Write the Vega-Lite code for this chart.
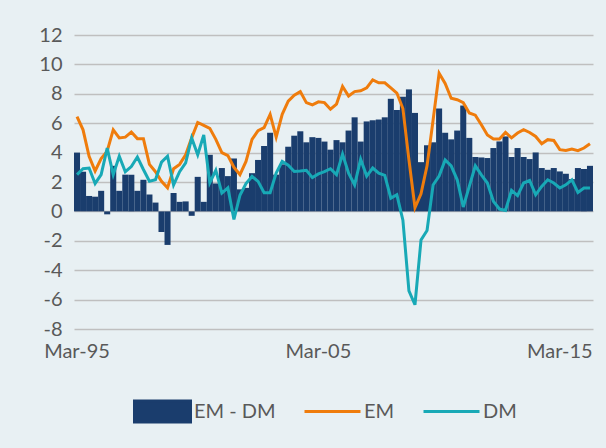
{
  "$schema": "https://vega.github.io/schema/vega-lite/v6.json",
  "width": 519,
  "height": 294,
  "autosize": {"type": "none"},
  "padding": {"left": 74, "top": 35, "right": 13, "bottom": 119},
  "background": "#e8f0f3",
  "config": {
    "view": {"stroke": null},
    "font": "Lato",
    "legend": {
      "title": null, "orient": "none", "legendX": 59, "legendY": 347,
      "direction": "horizontal", "symbolSize": 3136,
      "labelFontSize": 20, "labelColor": "#595959", "labelOffset": 2, "columnPadding": 22
    },
    "axisY": {
      "values": [-8, -6, -4, -2, 0, 2, 4, 6, 8, 10, 12],
      "tickCount": 11,
      "labelExpr": "toString(datum.value)",
      "labelOverlap": false,
      "title": null, "ticks": false, "domain": false,
      "gridColor": "#bfbfbf", "gridWidth": 1.5,
      "labelFontSize": 20, "labelColor": "#595959", "labelPadding": 12
    }
  },
  "data": {"values": [
    {"q":"Mar-95","diff":4.0,"EM":6.45,"DM":2.5},
    {"q":"Jun-95","diff":2.7,"EM":5.55,"DM":2.9},
    {"q":"Sep-95","diff":1.05,"EM":3.75,"DM":2.95},
    {"q":"Dec-95","diff":1.0,"EM":2.75,"DM":1.9},
    {"q":"Mar-96","diff":1.4,"EM":3.6,"DM":2.5},
    {"q":"Jun-96","diff":-0.2,"EM":4.1,"DM":4.3},
    {"q":"Sep-96","diff":3.1,"EM":5.55,"DM":2.5},
    {"q":"Dec-96","diff":1.4,"EM":5.0,"DM":3.75},
    {"q":"Mar-97","diff":2.5,"EM":5.05,"DM":2.7},
    {"q":"Jun-97","diff":2.5,"EM":5.4,"DM":3.05},
    {"q":"Sep-97","diff":1.4,"EM":4.95,"DM":3.7},
    {"q":"Dec-97","diff":2.15,"EM":4.95,"DM":2.85},
    {"q":"Mar-98","diff":1.15,"EM":3.2,"DM":2.05},
    {"q":"Jun-98","diff":0.6,"EM":2.7,"DM":2.15},
    {"q":"Sep-98","diff":-1.4,"EM":2.05,"DM":3.35},
    {"q":"Dec-98","diff":-2.28,"EM":1.6,"DM":3.75},
    {"q":"Mar-99","diff":1.25,"EM":2.9,"DM":1.8},
    {"q":"Jun-99","diff":0.65,"EM":3.2,"DM":2.7},
    {"q":"Sep-99","diff":0.68,"EM":3.85,"DM":3.3},
    {"q":"Dec-99","diff":-0.3,"EM":5.0,"DM":5.0},
    {"q":"Mar-00","diff":2.35,"EM":6.05,"DM":3.85},
    {"q":"Jun-00","diff":0.65,"EM":5.85,"DM":5.2},
    {"q":"Sep-00","diff":3.85,"EM":5.65,"DM":1.95},
    {"q":"Dec-00","diff":1.9,"EM":4.9,"DM":2.8},
    {"q":"Mar-01","diff":2.95,"EM":4.0,"DM":1.25},
    {"q":"Jun-01","diff":2.4,"EM":3.8,"DM":1.6},
    {"q":"Sep-01","diff":3.6,"EM":3.0,"DM":-0.55},
    {"q":"Dec-01","diff":1.5,"EM":2.5,"DM":1.1},
    {"q":"Mar-02","diff":1.6,"EM":3.4,"DM":1.9},
    {"q":"Jun-02","diff":2.6,"EM":4.9,"DM":2.38},
    {"q":"Sep-02","diff":3.5,"EM":5.5,"DM":2.04},
    {"q":"Dec-02","diff":4.45,"EM":5.7,"DM":1.27},
    {"q":"Mar-03","diff":5.35,"EM":6.6,"DM":1.27},
    {"q":"Jun-03","diff":2.5,"EM":5.05,"DM":2.6},
    {"q":"Sep-03","diff":3.2,"EM":6.6,"DM":3.4},
    {"q":"Dec-03","diff":4.4,"EM":7.5,"DM":3.15},
    {"q":"Mar-04","diff":5.15,"EM":7.9,"DM":2.72},
    {"q":"Jun-04","diff":5.45,"EM":8.15,"DM":2.75},
    {"q":"Sep-04","diff":4.7,"EM":7.4,"DM":2.8},
    {"q":"Dec-04","diff":5.05,"EM":7.25,"DM":2.3},
    {"q":"Mar-05","diff":5.0,"EM":7.45,"DM":2.55},
    {"q":"Jun-05","diff":4.75,"EM":7.4,"DM":2.7},
    {"q":"Sep-05","diff":4.2,"EM":6.95,"DM":2.9},
    {"q":"Dec-05","diff":4.85,"EM":7.3,"DM":2.5},
    {"q":"Mar-06","diff":4.7,"EM":8.5,"DM":3.9},
    {"q":"Jun-06","diff":5.5,"EM":7.85,"DM":2.6},
    {"q":"Sep-06","diff":6.4,"EM":8.15,"DM":1.8},
    {"q":"Dec-06","diff":4.75,"EM":8.2,"DM":3.55},
    {"q":"Mar-07","diff":6.12,"EM":8.4,"DM":2.4},
    {"q":"Jun-07","diff":6.2,"EM":8.95,"DM":2.95},
    {"q":"Sep-07","diff":6.25,"EM":8.75,"DM":2.6},
    {"q":"Dec-07","diff":6.4,"EM":8.75,"DM":2.45},
    {"q":"Mar-08","diff":7.66,"EM":8.4,"DM":0.9},
    {"q":"Jun-08","diff":6.9,"EM":8.05,"DM":1.13},
    {"q":"Sep-08","diff":7.8,"EM":7.0,"DM":-0.6},
    {"q":"Dec-08","diff":8.3,"EM":3.5,"DM":-5.4},
    {"q":"Mar-09","diff":6.7,"EM":0.25,"DM":-6.35},
    {"q":"Jun-09","diff":3.35,"EM":1.2,"DM":-1.95},
    {"q":"Sep-09","diff":4.5,"EM":3.1,"DM":-1.3},
    {"q":"Dec-09","diff":4.7,"EM":6.2,"DM":1.8},
    {"q":"Mar-10","diff":7.0,"EM":9.4,"DM":2.4},
    {"q":"Jun-10","diff":5.35,"EM":8.7,"DM":3.5},
    {"q":"Sep-10","diff":4.9,"EM":7.7,"DM":3.1},
    {"q":"Dec-10","diff":5.5,"EM":7.6,"DM":2.15},
    {"q":"Mar-11","diff":7.2,"EM":7.4,"DM":0.3},
    {"q":"Jun-11","diff":5.0,"EM":6.7,"DM":1.7},
    {"q":"Sep-11","diff":3.7,"EM":6.55,"DM":3.1},
    {"q":"Dec-11","diff":3.67,"EM":5.9,"DM":2.49},
    {"q":"Mar-12","diff":3.63,"EM":5.2,"DM":1.93},
    {"q":"Jun-12","diff":4.31,"EM":4.92,"DM":0.68},
    {"q":"Sep-12","diff":4.76,"EM":4.92,"DM":0.16},
    {"q":"Dec-12","diff":5.1,"EM":5.37,"DM":0.07},
    {"q":"Mar-13","diff":3.7,"EM":5.0,"DM":1.43},
    {"q":"Jun-13","diff":4.31,"EM":5.33,"DM":1.07},
    {"q":"Sep-13","diff":3.7,"EM":5.56,"DM":1.93},
    {"q":"Dec-13","diff":3.56,"EM":5.37,"DM":2.1},
    {"q":"Mar-14","diff":4.01,"EM":5.1,"DM":1.13},
    {"q":"Jun-14","diff":2.95,"EM":4.6,"DM":1.7},
    {"q":"Sep-14","diff":2.83,"EM":4.88,"DM":2.15},
    {"q":"Dec-14","diff":2.95,"EM":4.83,"DM":1.93},
    {"q":"Mar-15","diff":2.72,"EM":4.2,"DM":1.59},
    {"q":"Jun-15","diff":2.56,"EM":4.15,"DM":1.81},
    {"q":"Sep-15","diff":2.2,"EM":4.24,"DM":2.15},
    {"q":"Dec-15","diff":2.95,"EM":4.13,"DM":1.29},
    {"q":"Mar-16","diff":2.88,"EM":4.31,"DM":1.59},
    {"q":"Jun-16","diff":3.1,"EM":4.6,"DM":1.59}
  ]},
  "encoding": {
    "x": {
      "field": "q", "type": "ordinal", "sort": null,
      "scale": {"paddingInner": 0, "paddingOuter": 0},
      "axis": {
        "values": ["Mar-95", "Mar-05", "Mar-15"],
        "title": null, "labelAngle": 0, "ticks": false, "domain": false, "grid": false,
        "labelFontSize": 20, "labelColor": "#595959", "labelPadding": 12
      }
    }
  },
  "layer": [
    {
      "mark": {"type": "bar"},
      "encoding": {
        "y": {
          "field": "diff", "type": "quantitative",
          "scale": {"domain": [-8, 12], "nice": false, "zero": false},
          "axis": {
            "values": [-8, -6, -4, -2, 0, 2, 4, 6, 8, 10, 12],
            "tickCount": 11,
            "labelExpr": "toString(datum.value)",
            "labelOverlap": false,
            "title": null
          }
        },
        "color": {
          "datum": "EM - DM",
          "title": null,
          "scale": {"domain": ["EM - DM", "EM", "DM"], "range": ["#1a3d6d", "#ef7c0c", "#18a9b6"]},
          "legend": {
            "title": null,
            "encode": {
              "symbols": {
                "update": {
                  "shape": {"signal": "datum.value === 'EM - DM' ? 'M-1,-0.375H1V0.375H-1Z' : 'M-1,-0.375M-1,0.375M-1,0H1'"},
                  "fill": {"signal": "datum.value === 'EM - DM' ? '#1a3d6d' : 'transparent'"},
                  "stroke": {"signal": "datum.value === 'EM' ? '#ef7c0c' : (datum.value === 'DM' ? '#18a9b6' : 'transparent')"},
                  "strokeWidth": {"value": 3},
                  "opacity": {"value": 1}
                }
              }
            }
          }
        }
      }
    },
    {
      "mark": {"type": "rule", "color": "white", "strokeWidth": 5},
      "encoding": {"y": {"datum": 0}}
    },
    {
      "transform": [{"fold": ["EM", "DM"], "as": ["series", "value"]}],
      "mark": {"type": "line", "strokeWidth": 3},
      "encoding": {
        "y": {
          "field": "value", "type": "quantitative",
          "axis": {
            "values": [-8, -6, -4, -2, 0, 2, 4, 6, 8, 10, 12],
            "tickCount": 11,
            "labelExpr": "toString(datum.value)",
            "labelOverlap": false,
            "title": null
          }
        },
        "color": {
          "field": "series", "type": "nominal", "title": null,
          "legend": {
            "title": null,
            "encode": {
              "symbols": {
                "update": {
                  "shape": {"signal": "datum.value === 'EM - DM' ? 'M-1,-0.375H1V0.375H-1Z' : 'M-1,-0.375M-1,0.375M-1,0H1'"},
                  "fill": {"signal": "datum.value === 'EM - DM' ? '#1a3d6d' : 'transparent'"},
                  "stroke": {"signal": "datum.value === 'EM' ? '#ef7c0c' : (datum.value === 'DM' ? '#18a9b6' : 'transparent')"},
                  "strokeWidth": {"value": 3},
                  "opacity": {"value": 1}
                }
              }
            }
          }
        }
      }
    }
  ]
}
